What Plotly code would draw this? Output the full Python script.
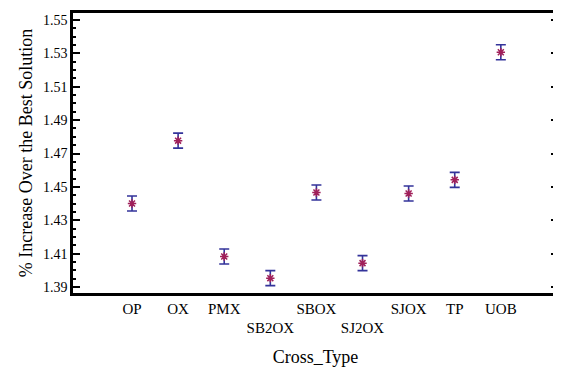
import plotly.graph_objects as go

categories = ["OP", "OX", "PMX", "SB2OX", "SBOX", "SJ2OX", "SJOX", "TP", "UOB"]
tick_labels = ["OP", "OX", "PMX", "<br>SB2OX", "SBOX", "<br>SJ2OX", "SJOX", "TP", "UOB"]
means = [1.4400, 1.4777, 1.4083, 1.3953, 1.4466, 1.4043, 1.4460, 1.4542, 1.5307]
half_width = [0.0045, 0.0045, 0.0045, 0.0045, 0.0045, 0.0045, 0.0045, 0.0045, 0.0045]
y_ticks = [1.39, 1.41, 1.43, 1.45, 1.47, 1.49, 1.51, 1.53, 1.55]

x_idx = list(range(len(categories)))

fig = go.Figure()
fig.add_trace(go.Scatter(
    x=x_idx, y=means, mode="markers",
    marker=dict(symbol="asterisk", size=7, color="#a0205a",
                line=dict(color="#a0205a", width=1.5)),
    error_y=dict(type="data", array=half_width, visible=True,
                 color="#33339a", thickness=1.6, width=5),
    showlegend=False,
))

serif = "Liberation Serif, Times New Roman, serif"
fig.update_layout(
    width=553, height=360,
    margin=dict(l=65, r=0, t=5, b=75),
    paper_bgcolor="white", plot_bgcolor="white",
    font=dict(family=serif, color="black"),
    xaxis=dict(
        range=[-1.28, 9.24],
        tickmode="array", tickvals=x_idx, ticktext=tick_labels,
        ticks="", showgrid=False, zeroline=False,
        showline=True, linecolor="black", linewidth=2.5, mirror=True,
        tickfont=dict(size=15, family=serif),
        title=dict(text="Cross_Type", font=dict(size=18, family=serif), standoff=16),
    ),
    yaxis=dict(
        range=[1.3864, 1.5542],
        tickmode="array", tickvals=y_ticks,
        ticktext=[f"{v:.2f}" for v in y_ticks],
        ticks="inside", ticklen=7, tickwidth=2, tickcolor="black",
        minor=dict(dtick=0.005, tick0=1.39, ticks="inside", ticklen=3,
                   tickwidth=2, tickcolor="black", showgrid=False),
        showgrid=False, zeroline=False,
        showline=True, linecolor="black", linewidth=2.5, mirror="allticks",
        tickfont=dict(size=14, family=serif),
        title=dict(text="% Increase Over the Best Solution",
                   font=dict(size=18, family=serif), standoff=6),
    ),
)

fig.write_html("out.html")
